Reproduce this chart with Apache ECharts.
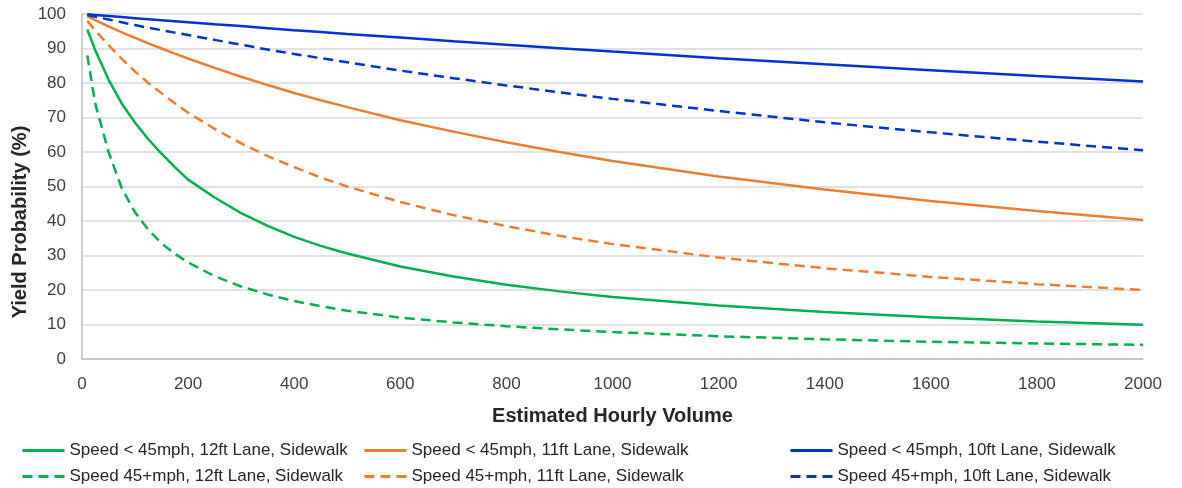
<!DOCTYPE html>
<html>
<head>
<meta charset="utf-8">
<script src="https://cdn.jsdelivr.net/npm/echarts@6/dist/echarts.min.js"></script>
<style>
  html, body { margin: 0; padding: 0; background: #fff; }
  #chart { width: 1182px; height: 488px; }
</style>
</head>
<body>
<div id="chart"></div>
<script>
// hourly volume sample points (x)
const volumes = [10, 25, 50, 75, 100, 125, 150, 175, 200, 250, 300, 350, 400, 450, 500, 600, 700, 800, 900, 1000, 1200, 1400, 1600, 1800, 2000];

// yield probability (%)
const green12Slow = [95.5, 89.5, 81, 74, 68.5, 63.7, 59.5, 55.6, 52, 46.8, 42.3, 38.6, 35.4, 32.8, 30.6, 26.8, 23.9, 21.5, 19.6, 18, 15.5, 13.6, 12.1, 10.9, 9.9];
const orange11Slow = [99.3, 98.2, 96.4, 94.7, 93.1, 91.5, 90, 88.5, 87.1, 84.4, 81.8, 79.4, 77.1, 75, 73, 69.2, 65.9, 62.8, 60, 57.4, 52.9, 49.1, 45.8, 42.9, 40.3];
const blue10Slow = [99.9, 99.7, 99.4, 99.1, 98.8, 98.5, 98.2, 97.9, 97.6, 97, 96.5, 95.9, 95.3, 94.8, 94.2, 93.2, 92.1, 91.1, 90.1, 89.1, 87.2, 85.4, 83.7, 82, 80.4];
const green12Fast = [88, 74, 60, 49.5, 42.5, 37.5, 33.5, 30.5, 28, 24, 21, 18.7, 16.8, 15.3, 14, 12, 10.6, 9.5, 8.6, 7.8, 6.6, 5.7, 5.0, 4.5, 4.1];
const orange11Fast = [98, 95.2, 91, 87, 83.3, 80, 77, 74.1, 71.4, 66.7, 62.5, 58.8, 55.6, 52.6, 50, 45.5, 41.7, 38.5, 35.7, 33.3, 29.4, 26.3, 23.8, 21.7, 20];
const blue10Fast = [99.7, 99.2, 98.4, 97.6, 96.8, 96, 95.3, 94.6, 93.9, 92.5, 91.1, 89.7, 88.4, 87.2, 86, 83.6, 81.4, 79.3, 77.3, 75.4, 71.9, 68.6, 65.7, 63, 60.5];

const xTicks = [0, 200, 400, 600, 800, 1000, 1200, 1400, 1600, 1800, 2000];

const GREEN = '#00B050';
const ORANGE = '#ED7D31';
const BLUE = '#0033CC';

function pairs(vals) {
  return volumes.map((v, i) => [v, vals[i]]);
}

function makeSeries(name, vals, color, dashed) {
  return {
    name: name,
    type: 'line',
    data: pairs(vals),
    smooth: false,
    symbol: 'none',
    lineStyle: { color: color, width: 2.5, type: dashed ? [10, 6] : 'solid' },
    itemStyle: { color: color }
  };
}

const names = [
  'Speed < 45mph, 12ft Lane, Sidewalk',
  'Speed 45+mph, 12ft Lane, Sidewalk',
  'Speed < 45mph, 11ft Lane, Sidewalk',
  'Speed 45+mph, 11ft Lane, Sidewalk',
  'Speed < 45mph, 10ft Lane, Sidewalk',
  'Speed 45+mph, 10ft Lane, Sidewalk'
];

const chart = echarts.init(document.getElementById('chart'), null, { renderer: 'canvas' });

// legend: line only, the circle marker is made invisible
const legendBase = {
  orient: 'vertical',
  top: 442,
  padding: 0,
  itemWidth: 42,
  itemHeight: 20,
  itemGap: 9,
  lineStyle: { width: 3 },
  itemStyle: { color: 'rgba(0,0,0,0)', borderWidth: 0, opacity: 0 },
  textStyle: { fontSize: 17, color: '#262626', fontFamily: 'Liberation Sans' }
};

const option = {
  animation: false,
  backgroundColor: '#fff',
  textStyle: { fontFamily: 'Liberation Sans' },
  grid: { left: 82, right: 39, top: 14, bottom: 129 },
  legend: [
    Object.assign({}, legendBase, { left: 21, data: [names[0], names[1]] }),
    Object.assign({}, legendBase, { left: 363, data: [names[2], names[3]] }),
    Object.assign({}, legendBase, { left: 789, data: [names[4], names[5]] })
  ],
  graphic: [{
    type: 'text',
    x: 20,
    y: 222,
    rotation: Math.PI / 2,
    style: {
      text: 'Yield Probability (%)',
      fontSize: 20,
      fontWeight: 'bold',
      fontFamily: 'Liberation Sans',
      fill: '#262626',
      align: 'center',
      verticalAlign: 'middle'
    }
  }],
  xAxis: {
    type: 'value',
    min: 0,
    max: 2000,
    interval: 200,
    name: 'Estimated Hourly Volume',
    nameLocation: 'middle',
    nameGap: 47,
    nameTextStyle: { fontSize: 20, fontWeight: 'bold', color: '#262626' },
    axisLine: { show: true, lineStyle: { color: '#BFBFBF', width: 1.5 } },
    axisTick: { show: false },
    splitLine: { show: false },
    axisLabel: {
      fontSize: 17,
      color: '#404040',
      margin: 17,
      formatter: v => xTicks.indexOf(v) >= 0 ? String(v) : ''
    }
  },
  yAxis: {
    type: 'value',
    min: 0,
    max: 100,
    interval: 10,
    axisLine: { show: true, lineStyle: { color: '#BFBFBF', width: 1.5 } },
    axisTick: { show: false },
    splitLine: { show: true, lineStyle: { color: '#D9D9D9', width: 1.5 } },
    axisLabel: { fontSize: 17, color: '#404040', margin: 16 }
  },
  series: [
    makeSeries(names[0], green12Slow, GREEN, false),
    makeSeries(names[1], green12Fast, GREEN, true),
    makeSeries(names[2], orange11Slow, ORANGE, false),
    makeSeries(names[3], orange11Fast, ORANGE, true),
    makeSeries(names[4], blue10Slow, BLUE, false),
    makeSeries(names[5], blue10Fast, BLUE, true)
  ]
};

chart.setOption(option);
</script>
</body>
</html>
